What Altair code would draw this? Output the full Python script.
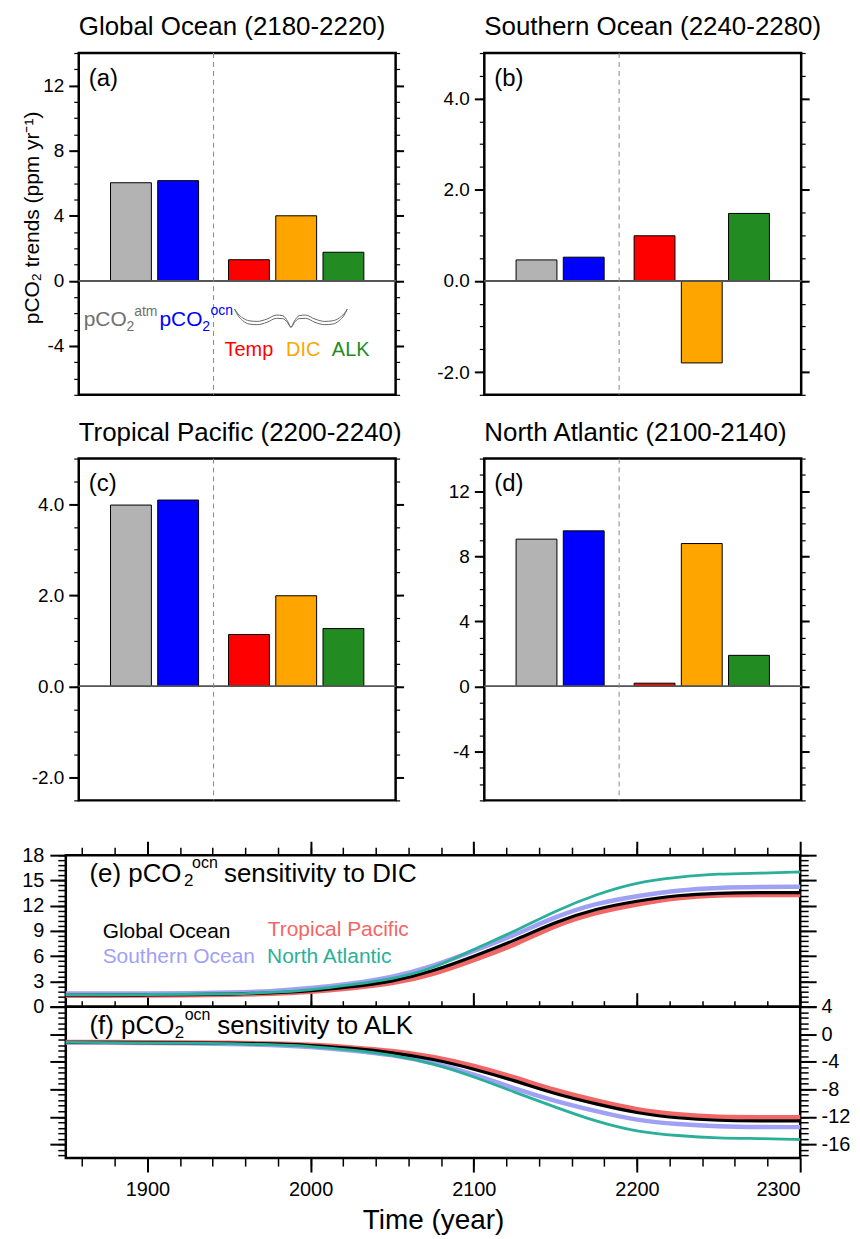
import altair as alt
import numpy as np
import pandas as pd

FONT = "Liberation Sans"

# ---------------- bar panels (a)-(d) ----------------
components = ["pCO2atm", "pCO2ocn", "Temp", "DIC", "ALK"]
bar_colors = ["#b3b3b3", "#0000ff", "#ff0000", "#ffa500", "#228b22"]
panel_titles = ["Global Ocean (2180-2220)", "Southern Ocean (2240-2280)",
                "Tropical Pacific (2200-2240)", "North Atlantic (2100-2140)"]
panel_tags = ["(a)", "(b)", "(c)", "(d)"]
trend_global = [6.03, 6.16, 1.30, 4.00, 1.76]
trend_southern = [0.46, 0.52, 0.99, -1.80, 1.48]
trend_tropical = [3.98, 4.09, 1.14, 1.99, 1.27]
trend_natlantic = [9.05, 9.56, 0.20, 8.78, 1.91]

# ---------------- time series (e), (f) ----------------
years = [1850, 1875, 1900, 1925, 1950, 1975, 2000, 2025, 2050, 2075, 2100,
         2125, 2150, 2175, 2200, 2225, 2250, 2275, 2300]
dic_global = [1.35, 1.36, 1.38, 1.42, 1.48, 1.60, 1.85, 2.35, 2.96, 4.20, 5.97,
              7.85, 10.07, 11.65, 12.56, 13.25, 13.50, 13.55, 13.55]
dic_southern = [1.55, 1.55, 1.57, 1.60, 1.66, 1.80, 2.18, 2.72, 3.48, 4.80, 6.63,
                8.50, 10.70, 12.30, 13.15, 13.85, 14.15, 14.22, 14.25]
dic_tropical = [1.28, 1.29, 1.31, 1.34, 1.40, 1.50, 1.74, 2.18, 2.69, 3.80, 5.53,
                7.30, 9.68, 11.20, 12.16, 12.95, 13.27, 13.27, 13.27]
dic_natlantic = [1.40, 1.41, 1.44, 1.47, 1.52, 1.65, 1.98, 2.60, 3.28, 4.50, 6.83,
                 8.93, 11.40, 13.35, 14.80, 15.40, 15.80, 15.85, 16.00]
alk_global = [-1.20, -1.20, -1.22, -1.25, -1.30, -1.40, -1.60, -2.05, -2.65, -3.60, -5.04,
              -6.74, -8.70, -10.15, -11.48, -12.20, -12.55, -12.60, -12.60]
alk_southern = [-1.22, -1.23, -1.27, -1.32, -1.40, -1.55, -1.80, -2.35, -3.00, -4.15, -5.77,
                -7.94, -9.73, -11.20, -12.55, -13.10, -13.40, -13.50, -13.50]
alk_tropical = [-1.15, -1.15, -1.17, -1.20, -1.25, -1.35, -1.50, -1.90, -2.40, -3.25, -4.56,
                -6.25, -8.19, -9.65, -11.00, -11.70, -12.05, -12.05, -12.05]
alk_natlantic = [-1.20, -1.22, -1.25, -1.30, -1.37, -1.50, -1.75, -2.30, -3.00, -4.25, -6.16,
                 -8.43, -10.60, -12.70, -14.20, -14.75, -15.10, -15.15, -15.30]
region_names = ["Southern Ocean", "Tropical Pacific", "Global Ocean", "North Atlantic"]
region_colors = ["#a0a0f5", "#f26666", "#000000", "#2ab09a"]
region_widths = [4.5, 4.5, 3.2, 2.8]

# brace decoration under the three driver bars in (a) (panel-(a) data units)
brace_x = [3.195, 3.265, 3.367, 3.502, 3.673, 3.878, 4.082, 4.217, 4.319, 4.389,
           4.459, 4.561, 4.696, 4.900, 5.105, 5.276, 5.411, 5.513, 5.583]
brace_upper = [-1.73, -2.02, -2.28, -2.45, -2.49, -2.35, -2.10, -2.14, -2.49, -2.85,
               -2.49, -2.14, -2.10, -2.35, -2.49, -2.45, -2.28, -2.02, -1.73]
brace_lower = [-1.73, -2.12, -2.44, -2.65, -2.69, -2.55, -2.30, -2.32, -2.57, -2.85,
               -2.57, -2.32, -2.30, -2.55, -2.69, -2.65, -2.44, -2.12, -1.73]

YTITLE = "pCO\u2082 trends (ppm yr\u207b\u00b9)"
INT_LAB = "(datum.value < 0 ? '-' : '') + format(abs(datum.value), 'd')"
DEC_LAB = "(datum.value < 0 ? '-' : '') + format(abs(datum.value), '.1f')"

one = pd.DataFrame({"z": [0.0]})


def rng(a, b, s):
    return [round(float(v), 3) + 0.0 for v in np.arange(a, b + s / 2, s)]


def ax(orient, values, size, width=1.5, labels=False, **kw):
    d = dict(orient=orient, values=list(values), tickSize=size, tickWidth=width,
             tickColor="black", labels=labels, domain=False, grid=False, ticks=True)
    d.update(kw)
    if "title" not in d:
        d["title"] = None
    return alt.Axis(**d)


def text_layer(txt, x, y, size, color="black", align="left"):
    return alt.Chart(one).mark_text(
        text=txt, align=align, baseline="alphabetic", fontSize=size, font=FONT, color=color
    ).encode(x=alt.value(x), y=alt.value(y))


xpos = [i + 1 + (0.5 if i >= 2 else 0) for i in range(len(components))]
sep_pos = (xpos[1] + xpos[2]) / 2


def bar_panel(vals, title, tag, domain, majors, minors, lab, show_ytitle=False, extra=()):
    df = pd.DataFrame({"comp": components, "pos": xpos, "val": vals, "base": [0.0] * len(vals)})
    sep = pd.DataFrame({"sep": [sep_pos]})
    xs = alt.Scale(domain=[0, 6.5], nice=False, zero=False)
    ys = alt.Scale(domain=domain, nice=False, zero=False)
    X = alt.X("pos:Q", scale=xs, axis=None)
    lkw = dict(labelExpr=lab, labelFontSize=19, labelPadding=5, labelColor="black", labelFont=FONT)
    if show_ytitle:
        lkw.update(title=YTITLE, titleFontSize=21, titleFont=FONT, titleFontWeight="normal",
                   titleColor="black", titleAngle=270, titleX=-40, titleY=165,
                   titleAlign="center", titleBaseline="alphabetic")
    left_major = ax("left", majors, 10, 2, labels=True, **lkw)
    left_minor = ax("left", minors, 5, 1.2)
    right_major = ax("right", majors, 8, 2)
    right_minor = ax("right", minors, 4, 1.2)
    bars = alt.Chart(df).mark_bar(size=41, stroke="black", strokeWidth=1).encode(
        x=X, y=alt.Y("val:Q", scale=ys, axis=left_major, stack=None), y2=alt.Y2("base:Q"),
        color=alt.Color("comp:N", scale=alt.Scale(domain=components, range=bar_colors), legend=None))
    zero = alt.Chart(df).mark_rule(color="#555555", strokeWidth=1.3).encode(
        y=alt.Y("base:Q", scale=ys, axis=left_minor))
    c1 = alt.Chart(df).mark_point(opacity=0).encode(x=X, y=alt.Y("val:Q", scale=ys, axis=right_major))
    c2 = alt.Chart(df).mark_point(opacity=0).encode(x=X, y=alt.Y("val:Q", scale=ys, axis=right_minor))
    dashed = alt.Chart(sep).mark_rule(color="#888888", strokeWidth=1, strokeDash=[5, 4]).encode(
        x=alt.X("sep:Q", scale=xs, axis=None))
    layers = [bars, zero, c1, c2, dashed, text_layer(tag, 10, 33, 24), text_layer(title, 0, -18, 26)]
    for e in extra:
        layers += e(xs, ys)
    return alt.layer(*layers).resolve_axis(y="independent").properties(width=318, height=343)


def brace_layer(xs, ys):
    bdf = pd.DataFrame({"bx": brace_x * 2, "by": brace_upper + brace_lower,
                        "strand": ["u"] * len(brace_x) + ["l"] * len(brace_x)})
    return [alt.Chart(bdf).mark_line(color="#666666", strokeWidth=1, interpolate="monotone").encode(
        x=alt.X("bx:Q", scale=xs, axis=None), y=alt.Y("by:Q", scale=ys, axis=None), detail="strand:N")]


def legend_a(xs, ys):
    gray, blue = "#707070", "#0000ff"
    items = [("pCO", 5, 274, 21, gray), ("2", 48, 279, 14, gray), ("atm", 55.7, 264, 14, gray),
             ("pCO", 81, 274, 21, blue), ("2", 124, 279, 14, blue), ("ocn", 132.3, 263, 14, blue),
             ("Temp", 146.3, 303.7, 20, "#ff0000"), ("DIC", 208, 303.7, 20, "#ffa500"),
             ("ALK", 254, 303.7, 20, "#228b22")]
    return [text_layer(t, x, y, s, c) for t, x, y, s, c in items]


pa = bar_panel(trend_global, panel_titles[0], panel_tags[0], [-7, 14], rng(-4, 12, 4), rng(-7, 14, 1),
               INT_LAB, show_ytitle=True, extra=(brace_layer, legend_a))
pb = bar_panel(trend_southern, panel_titles[1], panel_tags[1], [-2.5, 5], rng(-2, 4, 2), rng(-2.5, 5, 0.5), DEC_LAB)
pc = bar_panel(trend_tropical, panel_titles[2], panel_tags[2], [-2.5, 5], rng(-2, 4, 2), rng(-2.5, 5, 0.5), DEC_LAB)
pd_ = bar_panel(trend_natlantic, panel_titles[3], panel_tags[3], [-7, 14], rng(-4, 12, 4), rng(-7, 14, 1), INT_LAB)

grid = alt.concat(pa, pb, pc, pd_, columns=2, spacing={"row": 64, "column": 89}, bounds="flush")

# invisible spacer: the bar grid starts 13 px right of the time-series panels
spacer = alt.Chart(one).mark_point(opacity=0).encode(x=alt.value(0), y=alt.value(0)).properties(
    width=13, height=1, view=alt.ViewBackground(stroke="transparent", strokeWidth=0))
top_row = alt.hconcat(spacer, grid, spacing=0, bounds="flush")

# ---------------- line panels ----------------
W, H = 737, 152
xs_t = alt.Scale(domain=[1850, 2300], nice=False, zero=False)
x_major = [1900, 2000, 2100, 2200, 2300]
x_minor = rng(1860, 2280, 20)


def line(vals, i, ys, xaxis, yaxis):
    d = pd.DataFrame({"year": years, "v": vals})
    return alt.Chart(d).mark_line(color=region_colors[i], strokeWidth=region_widths[i],
                                  interpolate="basis").encode(
        x=alt.X("year:Q", scale=xs_t, axis=xaxis), y=alt.Y("v:Q", scale=ys, axis=yaxis))


ys_e = alt.Scale(domain=[0, 18], nice=False, zero=False)
e_maj, e_min = rng(0, 18, 3), rng(0, 18, 0.6)
e_series = [dic_southern, dic_tropical, dic_global, dic_natlantic]
e_layers = [
    line(e_series[0], 0, ys_e, ax("top", x_major, 14, 2),
         ax("left", e_maj, 16, 2, labels=True, labelExpr=INT_LAB, labelFontSize=20,
            labelPadding=6, labelColor="black", labelFont=FONT)),
    line(e_series[1], 1, ys_e, ax("top", x_minor, 8, 1.5), ax("left", e_min, 8, 1.5)),
    line(e_series[2], 2, ys_e, ax("top", x_major, 14, 2, offset=-H), ax("right", e_maj, 16, 2)),
    line(e_series[3], 3, ys_e, ax("top", x_minor, 6, 1.5, offset=-H), ax("right", e_min, 8, 1.5)),
]
e_texts = [("(e) pCO", 23.7, 26.7, 26, "black"), ("2", 118.7, 30.7, 17, "black"),
           ("ocn", 126.7, 13.3, 16, "black"), ("sensitivity to DIC", 158.7, 26.7, 26, "black"),
           ("Global Ocean", 37, 83, 21, region_colors[2]), ("Tropical Pacific", 202.7, 81, 21, region_colors[1]),
           ("Southern Ocean", 37, 108, 21, region_colors[0]), ("North Atlantic", 202, 108, 21, region_colors[3])]
e_layers += [text_layer(t, x, y, s, c) for t, x, y, s, c in e_texts]
pe = alt.layer(*e_layers).resolve_axis(x="independent", y="independent").properties(width=W, height=H)

ys_f = alt.Scale(domain=[-18, 4], nice=False, zero=False)
f_maj, f_min = rng(-16, 4, 4), rng(-17.6, 4, 0.8)
f_series = [alk_southern, alk_tropical, alk_global, alk_natlantic]
f_layers = [
    line(f_series[0], 0, ys_f,
         ax("bottom", x_major, 14, 2, labels=True, labelExpr=INT_LAB, labelFontSize=20, labelPadding=8,
            labelColor="black", labelFont=FONT, title="Time (year)", titleFontSize=28, titleFont=FONT,
            titleFontWeight="normal", titleColor="black", titleX=W / 2, titleY=71,
            titleAlign="center", titleBaseline="alphabetic"),
         ax("left", f_maj, 16, 2)),
    line(f_series[1], 1, ys_f, ax("bottom", x_minor, 8, 1.5), ax("left", f_min, 8, 1.5)),
    line(f_series[2], 2, ys_f, None,
         ax("right", f_maj, 16, 2, labels=True, labelExpr=INT_LAB, labelFontSize=20, labelPadding=5,
            labelColor="black", labelFont=FONT)),
    line(f_series[3], 3, ys_f, None, ax("right", f_min, 8, 1.5)),
]
f_texts = [("(f) pCO", 23.7, 27, 26, "black"), ("2", 109.3, 31, 17, "black"),
           ("ocn", 119.3, 13.7, 16, "black"), ("sensitivity to ALK", 152, 27, 26, "black")]
f_layers += [text_layer(t, x, y, s, c) for t, x, y, s, c in f_texts]
pf = alt.layer(*f_layers).resolve_axis(x="independent", y="independent").properties(width=W, height=H)

ef = alt.vconcat(pe, pf, spacing=0, bounds="flush")

chart = alt.vconcat(top_row, ef, spacing=36).properties(
    padding={"left": 12, "top": 2, "right": 0, "bottom": 0}
).configure_view(stroke="black", strokeWidth=2.5).configure_axis(
    labelFont=FONT, titleFont=FONT, labelColor="black", titleColor="black"
).configure_text(font=FONT)

chart.save("out.html", embed_options={"renderer": "svg", "actions": False})
